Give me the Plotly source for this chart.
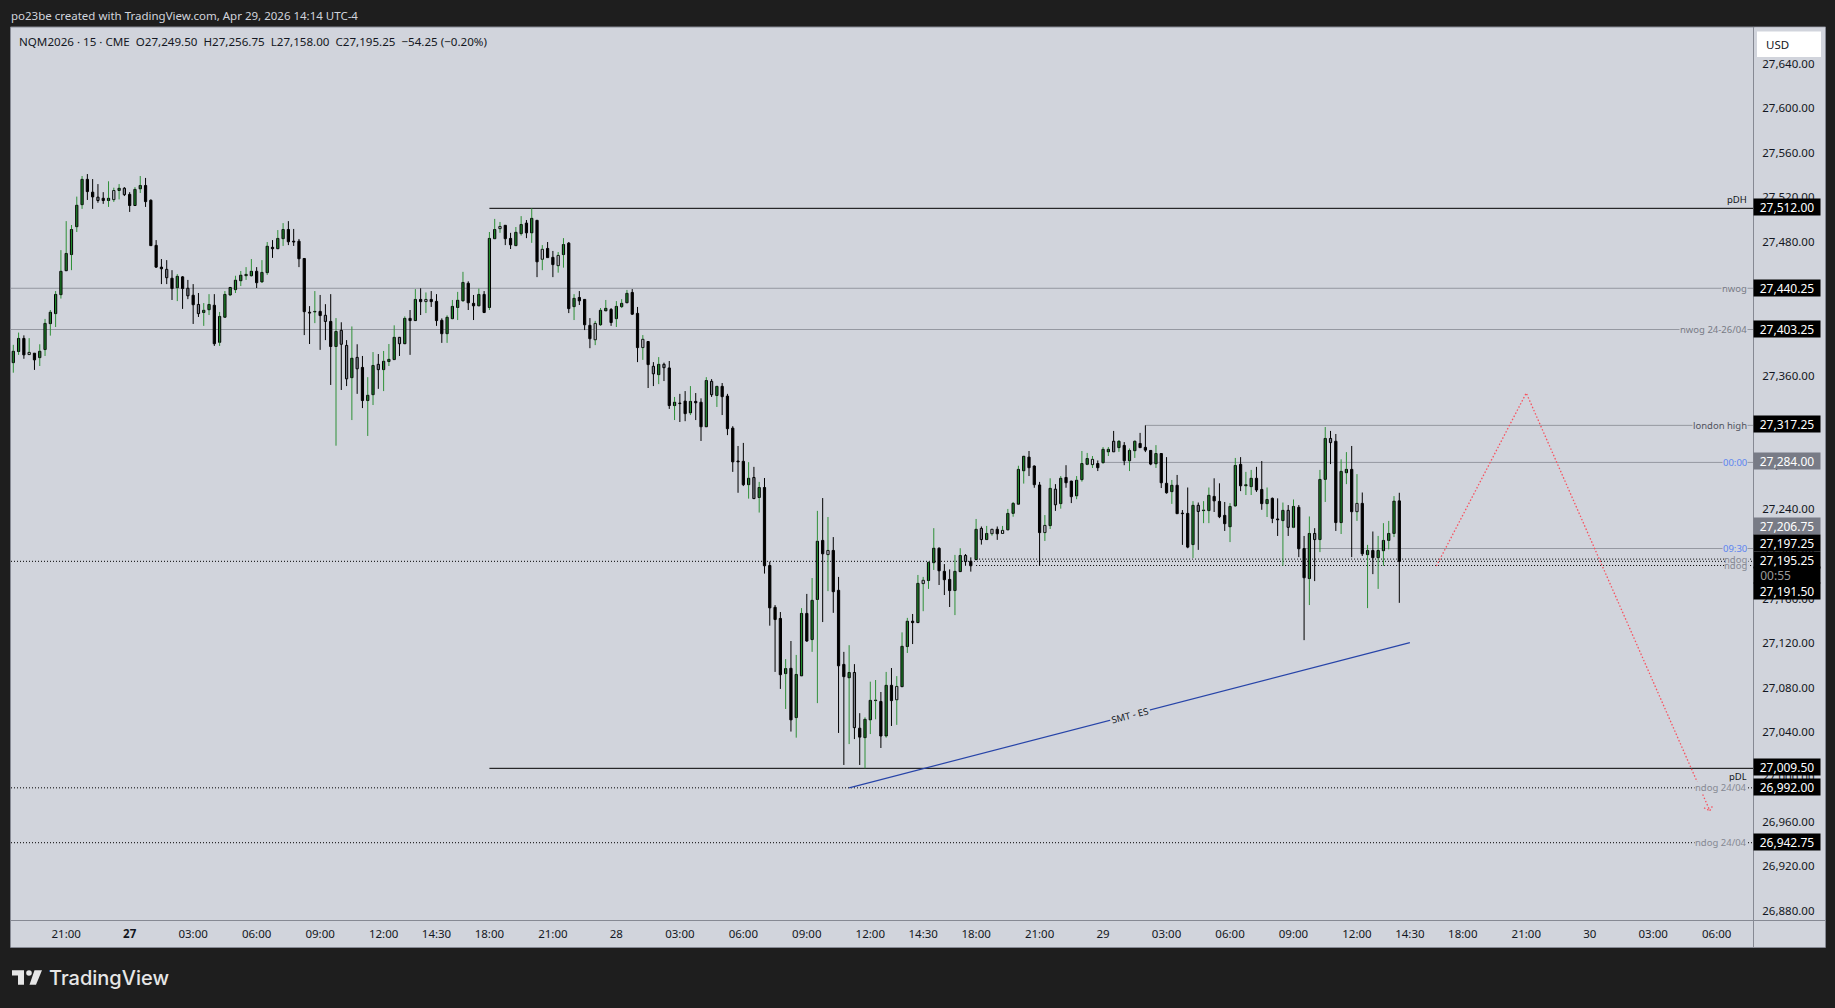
import plotly.graph_objects as go

# NQM2026 15 min bars
opens = [
    27373.5, 27383.5, 27395.25, 27380.75, 27382, 27378, 27385.25, 27408.5, 27417.5, 27434.5,
    27456, 27470.5, 27495.5, 27515.25, 27538, 27526.5, 27522, 27521, 27519, 27519.75,
    27528, 27530, 27524.5, 27514.5, 27529.5, 27532.5, 27519.25, 27478.75, 27459.25, 27457.25,
    27449.25, 27440.75, 27450.5, 27440.25, 27434, 27425.75, 27418.5, 27421, 27425, 27391.75,
    27414.25, 27434.25, 27439, 27447, 27451.5, 27451.5, 27455.5, 27446, 27454.25, 27477,
    27475.75, 27484.75, 27493, 27482.5, 27482.5, 27467, 27418.75, 27419, 27419.5, 27416,
    27410.5, 27388, 27402.5, 27389, 27360, 27378.25, 27369.25, 27339.5, 27344.75, 27372,
    27367.25, 27374.5, 27376.25, 27396.25, 27390.5, 27413.25, 27411.25, 27430.25, 27428.25, 27430.25,
    27428.5, 27411.5, 27399.5, 27413, 27423, 27429, 27444.75, 27426.75, 27424.5, 27434.75,
    27423, 27484.75, 27493.75, 27496.75, 27485, 27478.5, 27489.25, 27498.75, 27490, 27501.25,
    27466.25, 27476, 27468, 27460.5, 27470.5, 27480.75, 27423.75, 27432, 27430.25, 27407,
    27394, 27407.5, 27420, 27421.25, 27413, 27423.75, 27427.25, 27436.5, 27417.75, 27387,
    27392.5, 27370.25, 27362.75, 27372, 27368.75, 27335, 27337.25, 27339, 27328.5, 27338.75,
    27338, 27316, 27356.75, 27344, 27352.25, 27343.5, 27314.75, 27285.25, 27285, 27264,
    27270.5, 27252.5, 27261.5, 27191.5, 27154, 27144, 27094.5, 27099.25, 27055, 27092.5,
    27148.5, 27125, 27161, 27214, 27201.25, 27205, 27169.25, 27102.75, 27090.75, 27095.5,
    27045.5, 27037, 27053, 27070.25, 27069.5, 27038.5, 27084, 27071, 27082.75, 27118.75,
    27141.5, 27140.25, 27175.25, 27178, 27194, 27207, 27186.25, 27179, 27169, 27186,
    27200.5, 27195.25, 27196.75, 27224.75, 27214.75, 27220, 27224, 27220.25, 27223.5, 27238.25,
    27246.5, 27276.5, 27288.75, 27280.75, 27263.75, 27221, 27227.25, 27260, 27247, 27270.5,
    27267.25, 27254, 27268.5, 27282.25, 27286.75, 27279.25, 27283.75, 27295.75, 27293.5, 27303,
    27299.25, 27285.5, 27294.5, 27301, 27297.5, 27294.75, 27282.75, 27292, 27265.25, 27257.75,
    27263.5, 27238.5, 27238.25, 27210.25, 27245.5, 27240.75, 27240.75, 27253.5, 27249, 27236.5,
    27226.25, 27245, 27282.25, 27263, 27262.25, 27269.75, 27259.75, 27247, 27251.75, 27233.25,
    27231.75, 27241, 27225.75, 27243.75, 27206.75, 27179.75, 27220.25, 27214.75, 27268.75, 27305.5,
    27303, 27230, 27274.75, 27277.75, 27239.75, 27247.25, 27201.25, 27205, 27198.5, 27204.75,
    27214, 27220.25, 27249.5,
]
highs = [
    27389.5, 27400.5, 27398, 27395.5, 27382, 27390, 27412.75, 27420.75, 27437.75, 27474.5,
    27500.5, 27497, 27522.5, 27541, 27542.75, 27538.25, 27533.75, 27526.5, 27536.25, 27530.5,
    27533.75, 27531, 27526.5, 27531, 27541, 27539.25, 27520, 27483.5, 27466.5, 27465.5,
    27456.5, 27453, 27451.25, 27447.75, 27444, 27436, 27427, 27435, 27435, 27419,
    27437.75, 27441, 27451.5, 27455.75, 27459.25, 27466.5, 27459.25, 27465.5, 27481.75, 27483.5,
    27492.5, 27498.75, 27500.5, 27493.5, 27484.5, 27467, 27424.25, 27437.75, 27434.25, 27426,
    27435, 27413.5, 27409.75, 27393.75, 27406, 27390, 27379.5, 27360.5, 27383, 27381.25,
    27384, 27390.25, 27407, 27396.5, 27415, 27420.75, 27439.5, 27440.25, 27436.5, 27437.75,
    27435, 27413.25, 27416, 27429.75, 27437, 27455, 27446.5, 27434.25, 27440, 27437.75,
    27490.75, 27502.5, 27499.75, 27497, 27490, 27495.25, 27505, 27501.5, 27512, 27501.5,
    27479, 27481.75, 27473.75, 27472.75, 27485.25, 27481.75, 27435, 27437.75, 27430.5, 27413.5,
    27411, 27422.5, 27429.75, 27422.5, 27428.75, 27430.5, 27438.75, 27439.5, 27423.5, 27398.25,
    27392.75, 27374, 27378.5, 27373.5, 27375, 27342.75, 27345.5, 27348, 27352.5, 27346.25,
    27341.5, 27360.5, 27358.75, 27352.5, 27355.25, 27345.5, 27316.5, 27298.75, 27301.5, 27284.25,
    27280, 27266.5, 27270, 27195, 27156, 27149.75, 27107.5, 27123.75, 27111.25, 27153.25,
    27166, 27180.25, 27240.5, 27252, 27235, 27217, 27181.25, 27114, 27120, 27103,
    27059, 27055.25, 27087.25, 27088.75, 27078, 27096, 27099.5, 27092.25, 27131.5, 27144.5,
    27148, 27183, 27181.25, 27195, 27225, 27207.75, 27192.75, 27188, 27201, 27207,
    27201.75, 27198.75, 27233.25, 27226.5, 27227, 27224, 27226.5, 27227, 27242.25, 27248.5,
    27281, 27289.5, 27294.25, 27281.25, 27266.5, 27236.75, 27269.75, 27264.5, 27271.75, 27281.5,
    27267.5, 27271.75, 27294.25, 27292.5, 27289.75, 27285.75, 27297.75, 27297.75, 27312.25, 27304,
    27302.25, 27296.5, 27303.75, 27310.5, 27317.25, 27295, 27299.5, 27292.25, 27288.75, 27268.25,
    27272.75, 27241.25, 27261.5, 27249.25, 27248, 27249.25, 27261.5, 27269.75, 27265.25, 27248.5,
    27247.5, 27288, 27288.75, 27275.5, 27277.25, 27280, 27285.25, 27261.5, 27252.5, 27251.75,
    27248, 27245.75, 27250.75, 27245.75, 27218, 27235.5, 27225, 27277.25, 27315.75, 27312.25,
    27309.5, 27286.75, 27293.25, 27298.75, 27273.5, 27257, 27210, 27222, 27218, 27229.5,
    27231.5, 27253.75, 27256.75,
]
lows = [
    27364.5, 27380.5, 27377, 27380.5, 27367, 27370.5, 27379.5, 27397.75, 27405.5, 27431,
    27456, 27456.5, 27490.75, 27511.5, 27519.5, 27511.5, 27517, 27516, 27513.25, 27517.75,
    27520, 27523, 27508.75, 27514.5, 27525.75, 27513.25, 27478.25, 27458.5, 27444, 27444,
    27429.75, 27428.75, 27421.75, 27430.5, 27408.25, 27414.5, 27406.5, 27416.25, 27388.5, 27388.5,
    27414, 27433.25, 27436, 27442.25, 27447.75, 27450.75, 27440.5, 27445, 27452.25, 27467.5,
    27475.75, 27478.25, 27479, 27478.25, 27459.25, 27398.25, 27390.25, 27409, 27385, 27393.75,
    27353.5, 27299, 27349, 27352.5, 27322, 27345.5, 27332.75, 27307.75, 27335.5, 27350,
    27348, 27370.5, 27376, 27379.5, 27390.5, 27380.5, 27411.25, 27416.25, 27418, 27423.5,
    27406.5, 27391.25, 27391.25, 27412.5, 27411.75, 27428.25, 27420.75, 27411.75, 27424.25, 27418,
    27420.75, 27484.5, 27490, 27479, 27475.5, 27478.25, 27487.5, 27485.25, 27481, 27450.25,
    27456.5, 27467.75, 27450.25, 27454.25, 27458.75, 27418, 27411.75, 27425.25, 27402.75, 27386.5,
    27389.25, 27406.5, 27420, 27406.5, 27405.5, 27422.5, 27427.25, 27416.25, 27374, 27376,
    27350.75, 27352.5, 27354.25, 27357, 27332, 27322, 27320.25, 27321, 27326.5, 27322,
    27303.25, 27316, 27342.75, 27333.75, 27326.5, 27308.5, 27275.5, 27256.75, 27262.75, 27251.5,
    27251.25, 27239, 27184.25, 27137.5, 27096, 27080.75, 27062.75, 27042.5, 27037, 27092.5,
    27123, 27114, 27068, 27140.75, 27168.5, 27149, 27041.25, 27012.5, 27031.25, 27035.75,
    27012.5, 27009.5, 27040.25, 27053.5, 27027.75, 27037, 27047.5, 27048.5, 27082.75, 27113,
    27121, 27140.25, 27150.5, 27170.5, 27187.5, 27174, 27165, 27154.25, 27147, 27186,
    27191.25, 27186, 27196.75, 27210.25, 27214.5, 27218.25, 27214.5, 27220, 27223.25, 27235.25,
    27246.5, 27265, 27271.75, 27261.25, 27191.25, 27213.5, 27224.25, 27240.5, 27242.5, 27261.25,
    27247.5, 27251, 27266.75, 27281.5, 27279, 27276.25, 27283, 27289.75, 27293.5, 27293.5,
    27281.5, 27276.25, 27288, 27297.25, 27293.25, 27281.5, 27279, 27261, 27256, 27246.75,
    27238, 27210, 27207, 27198.25, 27205.5, 27229.5, 27229.5, 27239.5, 27234, 27222.5,
    27212.5, 27244, 27258.25, 27254.75, 27254.75, 27257.5, 27241.5, 27235, 27229.5, 27218,
    27191.25, 27218, 27225, 27199, 27124.5, 27156, 27177.5, 27203.5, 27248.5, 27282.5,
    27222.5, 27219.75, 27264.5, 27199, 27231.5, 27200, 27153.25, 27183.75, 27170.5, 27191.25,
    27206, 27217, 27158,
]
closes = [
    27383.75, 27395.25, 27380.5, 27382.75, 27376, 27383.75, 27408.75, 27418.75, 27434.75, 27455.5,
    27471.5, 27493, 27514.75, 27538, 27527, 27522.25, 27519, 27519, 27521, 27528,
    27530, 27524.25, 27514.5, 27529, 27532.5, 27518, 27478.5, 27459.25, 27457.75, 27449.75,
    27440, 27451, 27440, 27433.5, 27425.5, 27417.5, 27420.5, 27425.75, 27390.5, 27415,
    27434.75, 27441, 27447.5, 27452, 27452.75, 27455.5, 27445.25, 27454.5, 27478, 27475.75,
    27485, 27493, 27482, 27481.75, 27466.75, 27419.25, 27418, 27419.5, 27415.75, 27410.5,
    27388, 27401.5, 27390, 27359, 27377.5, 27368, 27339.5, 27344.25, 27371, 27367.25,
    27374.75, 27376.5, 27396.25, 27390.5, 27413.25, 27411.25, 27430.25, 27428.25, 27430.25, 27428.25,
    27411.25, 27399.5, 27414.25, 27424, 27429.5, 27445.5, 27427.25, 27424.5, 27434.75, 27418.5,
    27485, 27493, 27495.75, 27484.75, 27479.25, 27490.5, 27497.5, 27490, 27503, 27464,
    27475.25, 27467.75, 27461.5, 27469.75, 27479.5, 27422, 27431.25, 27429, 27407.5, 27395,
    27408.75, 27420.5, 27422.25, 27409.5, 27424, 27426.75, 27435.75, 27417, 27387, 27394.5,
    27371.75, 27363.5, 27372, 27369, 27335, 27338, 27336.75, 27327.75, 27338.75, 27337.5,
    27316, 27357.5, 27344.75, 27352.25, 27343, 27314.25, 27284.5, 27284.5, 27264, 27269.75,
    27251.5, 27261.5, 27191.25, 27153.5, 27143, 27093.5, 27099, 27053, 27093.75, 27148.5,
    27123.75, 27160.25, 27213.25, 27202, 27205, 27168, 27101.5, 27091.75, 27095.5, 27046,
    27037.5, 27053.5, 27070.5, 27070.75, 27038.5, 27084, 27070.25, 27083, 27119, 27141.5,
    27140.25, 27175.5, 27178.25, 27194.25, 27207, 27186.75, 27178.75, 27169, 27186.25, 27200.5,
    27195, 27191.25, 27224, 27214.75, 27220.25, 27224, 27220, 27223, 27238.25, 27247.25,
    27277.75, 27289.5, 27279.25, 27264, 27221, 27227.5, 27260.75, 27246, 27269.75, 27265.75,
    27253.25, 27268, 27283, 27287.5, 27282, 27283, 27295.75, 27293.5, 27303, 27297.25,
    27285.5, 27294.75, 27303, 27297.25, 27295, 27282.5, 27292, 27265.75, 27256.75, 27263.5,
    27238, 27238, 27208, 27245.5, 27240, 27241.25, 27254.5, 27249.5, 27235.25, 27229,
    27244.5, 27281.25, 27263, 27264, 27269.75, 27259.25, 27247, 27250.75, 27233.75, 27232.5,
    27241, 27225.75, 27244.5, 27206.5, 27180.5, 27220.25, 27214.75, 27268.75, 27305.5, 27301.75,
    27230, 27276, 27277.75, 27239.75, 27247.25, 27202, 27205, 27198.5, 27205, 27214,
    27220.25, 27249.25, 27195.25,
]
# g green, k black, a grey, h hollow
body_kinds = (
    "ggkhkggggg" "ggggkkakgh" "gakggkkkka" "kgkakaggkg" "ggggggkggk"
    "ggkkkkkgka" "kgaagakgga" "gggagkgkhk" "kkggggkkgk" "gghkkggkgk"
    "hkkhgkgkkk" "hggkgggkkh" "kagakgkkgk" "kgagkkkkkg" "agkkkkgkgg"
    "kggkhkkkga" "kgggkgkhgg" "kghggkkkgg" "akgaghkhgg" "ggkkkhgagk"
    "kggghkggag" "kggkkkgkkg" "kkkgaggkkk" "ggkggkkgkk" "gagkkgagga"
    "kggkhkgkgg" "ggk"
)

tick_bars = [10, 22, 34, 46, 58, 70, 80, 90, 102, 114, 126, 138, 150, 162, 172, 182, 194, 206,
             218, 230, 242, 254, 264, 274, 286, 298, 310, 322]
tick_labels = ["21:00", "<b>27</b>", "03:00", "06:00", "09:00", "12:00", "14:30", "18:00", "21:00", "28",
               "03:00", "06:00", "09:00", "12:00", "14:30", "18:00", "21:00", "29",
               "03:00", "06:00", "09:00", "12:00", "14:30", "18:00", "21:00", "30", "03:00", "06:00"]
price_ticks = list(range(26880, 27641, 40))

# levels: price, first bar, line colour, dash
level_prices = [27512, 27009.5, 27440.25, 27403.25, 27317.25, 27284, 27206.75, 27197.25, 27195.25, 27191.5, 26992, 26942.75]
level_starts = [90, 90, -1, -1, 214, 206, 244, 182, -1, 182, -1, -1]
level_colors = ["#000000", "#000000", "#9598a1", "#9598a1", "#9598a1", "#9598a1", "#9598a1",
                "#000000", "#000000", "#000000", "#000000", "#000000"]
level_dashes = ["solid", "solid", "solid", "solid", "solid", "solid", "solid",
                "1px,2px", "1px,2px", "1px,2px", "1px,2px", "1px,2px"]

line_labels = ["pDH", "pDL", "nwog", "nwog 24-26/04", "london high", "00:00", "09:30", "ndog", "ndog", "ndog 24/04", "ndog 24/04"]
line_label_prices = [27520, 27002.5, 27440.25, 27403.25, 27317.25, 27284, 27206.75, 27197.25, 27191.5, 26992, 26942.75]
line_label_colors = ["#131722", "#131722", "#787b86", "#787b86", "#50535e", "#5b84f0", "#5b84f0", "#868993", "#868993", "#868993", "#868993"]

smt_bars = [158, 264]
smt_prices = [26992, 27122.25]
path_bars = [269, 286, 320.7]
path_prices = [27191, 27346.25, 26971.5]
head_bars = [319.6, 320.7, 321.3]
head_prices = [26974, 26971.5, 26976.5]

axis_tags = ["27,512.00", "27,440.25", "27,403.25", "27,317.25", "27,284.00", "27,206.75", "27,197.25",
             "27,195.25", "00:55", "27,191.50", "27,009.50", "26,992.00", "26,942.75"]
axis_tag_y = [206.9, 287.5, 328.7, 424.2, 460.9, 526.2, 543.2, 560.2, 574.7, 590.9, 766.9, 786.9, 842.2]
axis_tag_bg = ["#000000", "#000000", "#000000", "#000000", "#787b86", "#787b86", "#000000",
               "#000000", "#000000", "#000000", "#000000", "#000000", "#000000"]

PANE = "#d1d4dc"
DARK = "#1e1e1e"
EDGE = "#868993"
GREEN = "#1f8a2c"
WICK_GREEN = "#2f9038"
FONT = "Noto Sans"
LEFT, RIGHT, TOP, BOTTOM = 11, 1753, 27, 920


def px(x):
    return (x - LEFT) / (RIGHT - LEFT)


def py(y):
    return (BOTTOM - y) / (BOTTOM - TOP)


def poly(points):
    return "M" + " L".join(f"{px(x):.5f},{py(y):.5f}" for x, y in points) + " Z"


def wick_segments(want_green):
    xs, ys = [], []
    for i, kind in enumerate(body_kinds):
        if (kind in "gh") != want_green:
            continue
        top, bottom = max(opens[i], closes[i]), min(opens[i], closes[i])
        xs += [i, i, None, i, i, None]
        ys += [highs[i], top, None, bottom, lows[i], None]
    return xs, ys


fill_for = {"g": GREEN, "k": "#000000", "a": "#787b86", "h": PANE}
bars = list(range(len(opens)))

fig = go.Figure()
for want_green, color in [(True, WICK_GREEN), (False, "#000000")]:
    wx, wy = wick_segments(want_green)
    fig.add_trace(go.Scatter(x=wx, y=wy, mode="lines", line=dict(color=color, width=1), hoverinfo="skip"))
fig.add_trace(go.Bar(
    x=bars,
    y=[abs(c - o) for o, c in zip(opens, closes)],
    base=[min(o, c) for o, c in zip(opens, closes)],
    width=0.42,
    marker=dict(color=[fill_for[k] for k in body_kinds], line=dict(color="#000000", width=1)),
))
fig.add_trace(go.Scatter(x=smt_bars, y=smt_prices, mode="lines", line=dict(color="#2744a8", width=1.2), hoverinfo="skip"))
for xs, ys in [(path_bars, path_prices), (head_bars[:2], head_prices[:2]), (head_bars[1:], head_prices[1:])]:
    fig.add_trace(go.Scatter(x=xs, y=ys, mode="lines", line=dict(color="#f7525f", width=1.3, dash="1.5px,2px"), hoverinfo="skip"))

shapes = [
    # axis strips
    dict(type="rect", xref="paper", yref="paper", x0=px(RIGHT), x1=px(1825), y0=py(947), y1=py(TOP), fillcolor=PANE, line_width=0, layer="below"),
    dict(type="rect", xref="paper", yref="paper", x0=px(LEFT), x1=px(RIGHT), y0=py(947), y1=py(BOTTOM), fillcolor=PANE, line_width=0, layer="below"),
    # frame
    dict(type="rect", xref="paper", yref="paper", x0=px(10.5), x1=px(1825.5), y0=py(947.5), y1=py(27), line=dict(color=EDGE, width=1)),
    dict(type="line", xref="paper", yref="paper", x0=px(1753.5), x1=px(1753.5), y0=py(947.5), y1=py(27), line=dict(color=EDGE, width=1)),
    dict(type="line", xref="paper", yref="paper", x0=px(10.5), x1=px(1825.5), y0=py(920.5), y1=py(920.5), line=dict(color=EDGE, width=1)),
    # USD button
    dict(type="rect", xref="paper", yref="paper", x0=px(1754.5), x1=px(1825), y0=py(60), y1=py(27.5), fillcolor=PANE, line_width=0),
    dict(type="rect", xref="paper", yref="paper", x0=px(1757), x1=px(1821), y0=py(57), y1=py(31.5), fillcolor="#ffffff", line_width=0),
    # gap in the dotted lines behind the two ndog labels
    dict(type="rect", xref="paper", yref="paper", x0=px(1725), x1=px(1748.5), y0=py(570), y1=py(554.5), fillcolor=PANE, line_width=0),
    # logo
    dict(type="path", xref="paper", yref="paper", fillcolor="#e6e6e6", line_width=0,
         path=poly([(12, 970.3), (24, 970.3), (24, 984.7), (18, 984.7), (18, 975.5), (12, 975.5)])),
    dict(type="circle", xref="paper", yref="paper", x0=px(26.2), x1=px(31.8), y0=py(975.8), y1=py(970.2), fillcolor="#e6e6e6", line_width=0),
    dict(type="path", xref="paper", yref="paper", fillcolor="#e6e6e6", line_width=0,
         path=poly([(34.5, 970.3), (42, 970.3), (36, 984.7), (29.5, 984.7)])),
]
for price, start, color, dash in zip(level_prices, level_starts, level_colors, level_dashes):
    shapes.append(dict(type="line", xref="x", yref="y", x0=start, x1=329, y0=price, y1=price,
                       line=dict(color=color, width=1, dash=dash), layer="below"))

annotations = [
    dict(text="po23be created with TradingView.com, Apr 29, 2026 14:14 UTC-4", x=px(9), y=py(15), xref="paper", yref="paper",
         xanchor="left", yanchor="middle", showarrow=False, font=dict(family=FONT, size=11.5, color="#d1d4dc")),
    dict(text="NQM2026 · 15 · CME  O27,249.50  H27,256.75  L27,158.00  C27,195.25  −54.25 (−0.20%)", x=px(17), y=py(42), xref="paper", yref="paper",
         xanchor="left", yanchor="middle", showarrow=False, font=dict(family=FONT, size=11.6, color="#131722")),
    dict(text="USD", x=px(1764), y=py(44.5), xref="paper", yref="paper", xanchor="left", yanchor="middle", showarrow=False,
         font=dict(family=FONT, size=11.5, color="#131722")),
    dict(text="TradingView", x=px(46.5), y=py(978), xref="paper", yref="paper", xanchor="left", yanchor="middle", showarrow=False,
         font=dict(family="Inter", size=20, color="#e6e6e6", weight=500)),
    dict(text="SMT - ES", x=211, y=27057.25, xref="x", yref="y", textangle=-14.5, showarrow=False, bgcolor=PANE,
         font=dict(family=FONT, size=9.5, color="#131722")),
]
for text, price, color in zip(line_labels, line_label_prices, line_label_colors):
    annotations.append(dict(text=text, x=px(1748), y=price, xref="paper", yref="y", xanchor="right", yanchor="middle",
                            height=11, showarrow=False, bgcolor="rgba(0,0,0,0)" if text == "ndog" else PANE, borderpad=0,
                            font=dict(family=FONT, size=9.5, color=color)))
for text, y, bg in zip(axis_tags, axis_tag_y, axis_tag_bg):
    clock = text == "00:55"
    annotations.append(dict(text="&nbsp;&nbsp;" + text if clock else text, x=px(1787), y=py(y), xref="paper", yref="paper",
                            xanchor="center", yanchor="middle", width=66, height=16, align="left" if clock else "center",
                            showarrow=False, bgcolor=bg, borderpad=0,
                            font=dict(family=FONT, size=12, color="#9a9a9a" if clock else "#ffffff")))

fig.update_layout(
    width=1835,
    height=1008,
    margin=dict(l=LEFT, r=1835 - RIGHT, t=TOP, b=1008 - BOTTOM),
    paper_bgcolor=DARK,
    plot_bgcolor=PANE,
    showlegend=False,
    barmode="overlay",
    hovermode=False,
    shapes=shapes,
    annotations=annotations,
    xaxis=dict(range=[-0.435, 328.86], tickvals=tick_bars, ticktext=tick_labels, showgrid=False, zeroline=False,
               ticks="outside", ticklen=3, tickcolor="rgba(0,0,0,0)", tickangle=0,
               tickfont=dict(family=FONT, size=11.5, color="#131722")),
    yaxis=dict(range=[26873.4, 27674.7], side="right", tickvals=price_ticks, tickformat=",.2f", showgrid=False, zeroline=False,
               ticks="outside", ticklen=6, tickcolor="rgba(0,0,0,0)", ticklabelshift=-2,
               tickfont=dict(family=FONT, size=11.5, color="#131722")),
)

fig.write_html("out.html", config={"displayModeBar": False},
               post_script="document.body.style.margin='0';document.body.style.overflow='hidden';")
